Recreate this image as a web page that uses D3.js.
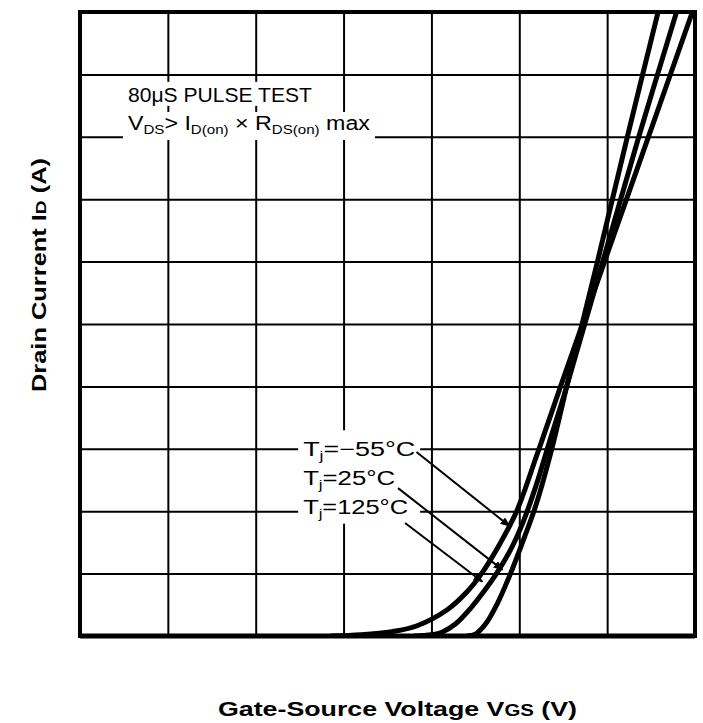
<!DOCTYPE html>
<html lang="en">
<head>
<meta charset="UTF-8">
<title>Transfer characteristics</title>
<style>
  body { margin: 0; background: #fff; }
  text { font-family: "Liberation Sans", Arial, Helvetica, sans-serif; fill: #000; }
</style>
</head>
<body>
<script src="https://d3js.org/d3.v7.min.js"></script>
<script>
// grid divisions (the original has no tick labels)
let vgsTicks = [0, 1, 2, 3, 4, 5, 6, 7];
let idTicks = [0, 1, 2, 3, 4, 5, 6, 7, 8, 9, 10];

// curves, [VGS, ID] in grid units
let tjMinus55 = [[4.40, 0], [4.50, 0.03], [4.62, 0.20], [4.75, 0.52], [4.90, 1.00], [5.05, 1.55],
                 [5.19, 2.10], [5.37, 3.00], [5.54, 4.00], [5.89, 6.00], [6.23, 8.00], [6.58, 10.0]];
let tj25 = [[3.80, 0], [4.00, 0.02], [4.12, 0.06], [4.28, 0.20], [4.45, 0.45], [4.60, 0.72],
            [4.74, 1.00], [4.90, 1.38], [5.05, 1.85], [5.20, 2.45], [5.33, 3.05], [5.54, 4.00],
            [5.95, 6.00], [6.36, 8.00], [6.79, 10.0]];
let tj125 = [[2.85, 0], [3.20, 0.02], [3.55, 0.07], [3.83, 0.16], [4.18, 0.42], [4.40, 0.70],
             [4.57, 1.00], [4.78, 1.48], [4.97, 2.00], [5.20, 2.90], [5.47, 4.00], [5.97, 6.00],
             [6.47, 8.00], [6.97, 10.0]];

let series = [tjMinus55, tj25, tj125];
let tempLabels = ["\u221255", "25", "125"];

// Define SVG area dimensions
let svgWidth = 703;
let svgHeight = 723;
let margin = { top: 12, left: 80 };
let chartWidth = 615;
let chartHeight = 624;

let svg = d3.select("body").append("svg")
  .attr("width", svgWidth)
  .attr("height", svgHeight);

let chartGroup = svg.append("g")
  .attr("transform", `translate(${margin.left}, ${margin.top})`);

let xScale = d3.scaleLinear().domain([0, 7]).range([0, chartWidth]);
let yScale = d3.scaleLinear().domain([0, 10]).range([chartHeight, 0]);

// grid lines through the axes
chartGroup.append("g")
  .attr("transform", `translate(0, ${chartHeight})`)
  .call(d3.axisBottom(xScale).tickValues(vgsTicks).tickSize(-chartHeight).tickFormat(""))
  .call(g => g.select(".domain").remove())
  .selectAll("line").attr("stroke", "#000").attr("stroke-width", 2);

chartGroup.append("g")
  .call(d3.axisLeft(yScale).tickValues(idTicks).tickSize(-chartWidth).tickFormat(""))
  .call(g => g.select(".domain").remove())
  .selectAll("line").attr("stroke", "#000").attr("stroke-width", 2);

// text blocks knock the grid out behind them
let knockout = chartGroup.append("g");
let textLayer = chartGroup.append("g");

function blank(sel, padX, padTop, padBottom) {
  let b = sel.node().getBBox();
  knockout.append("rect")
    .attr("x", b.x - padX).attr("y", b.y - padTop)
    .attr("width", b.width + 2 * padX).attr("height", b.height + padTop + padBottom)
    .attr("fill", "#fff");
}

// test conditions
let line1 = textLayer.append("text")
  .attr("x", xScale(0.546)).attr("y", yScale(8.56))
  .attr("font-size", 20)
  .attr("textLength", 184).attr("lengthAdjust", "spacingAndGlyphs")
  .text("80\u03bcS PULSE TEST");
blank(line1, 5, 2, 0);

let line2 = textLayer.append("text")
  .attr("x", xScale(0.546)).attr("y", yScale(8.11))
  .attr("font-size", 20)
  .attr("textLength", 242).attr("lengthAdjust", "spacingAndGlyphs");
line2.append("tspan").text("V");
line2.append("tspan").attr("font-size", 13).attr("dy", 4).text("DS");
line2.append("tspan").attr("dy", -4).text("> I");
line2.append("tspan").attr("font-size", 13).attr("dy", 4).text("D(on)");
line2.append("tspan").attr("dy", -4).text(" \u00d7 R");
line2.append("tspan").attr("font-size", 13).attr("dy", 4).text("DS(on)");
line2.append("tspan").attr("dy", -4).text(" max");
blank(line2, 5, 0, 3);

// curve labels
let labelGroup = textLayer.append("g");
let labelBase = [2.88, 2.42, 1.96];
let labelLen = [112, 92, 105];
tempLabels.forEach(function(t, i) {
  let lbl = labelGroup.append("text")
    .attr("x", xScale(2.54)).attr("y", yScale(labelBase[i]))
    .attr("font-size", 20)
    .attr("textLength", labelLen[i]).attr("lengthAdjust", "spacingAndGlyphs");
  lbl.append("tspan").text("T");
  lbl.append("tspan").attr("font-size", 13).attr("dy", 4).text("j");
  lbl.append("tspan").attr("dy", -4).text("=" + t + "\u00b0C");
});
blank(labelGroup, 5, 8, 3);

// clip for the curves
svg.append("defs").append("clipPath").attr("id", "plot")
  .append("rect").attr("width", chartWidth).attr("height", chartHeight);

svg.select("defs").append("marker")
  .attr("id", "head")
  .attr("viewBox", "0 0 10 8")
  .attr("refX", 9).attr("refY", 4)
  .attr("markerUnits", "userSpaceOnUse")
  .attr("markerWidth", 10).attr("markerHeight", 8)
  .attr("orient", "auto")
  .append("path").attr("d", "M0,0 L10,4 L0,8 z").attr("fill", "#000");

let line = d3.line()
  .x(d => xScale(d[0]))
  .y(d => yScale(d[1]))
  .curve(d3.curveCatmullRom.alpha(0.5));

chartGroup.append("g").attr("clip-path", "url(#plot)")
  .selectAll("path")
  .data(series)
  .enter()
  .append("path")
  .attr("d", line)
  .attr("fill", "none")
  .attr("stroke", "#000")
  .attr("stroke-width", 5);

// leader lines from labels to curves, [x1, y1, x2, y2] in grid units
let leaders = [[3.83, 2.95, 4.89, 1.76], [3.62, 2.37, 4.81, 1.06], [3.70, 1.81, 4.58, 0.87]];
chartGroup.selectAll(".leader")
  .data(leaders)
  .enter()
  .append("line")
  .attr("class", "leader")
  .attr("x1", d => xScale(d[0])).attr("y1", d => yScale(d[1]))
  .attr("x2", d => xScale(d[2])).attr("y2", d => yScale(d[3]))
  .attr("stroke", "#000")
  .attr("stroke-width", 2)
  .attr("marker-end", "url(#head)");

// frame
chartGroup.append("rect")
  .attr("width", chartWidth).attr("height", chartHeight)
  .attr("fill", "none").attr("stroke", "#000").attr("stroke-width", 4);
chartGroup.append("line")
  .attr("x1", 0).attr("x2", chartWidth)
  .attr("y1", chartHeight).attr("y2", chartHeight)
  .attr("stroke", "#000").attr("stroke-width", 5);

// axis titles
let xTitle = svg.append("text")
  .attr("x", 397.5).attr("y", 716)
  .attr("text-anchor", "middle")
  .attr("font-size", 21).attr("font-weight", "bold")
  .attr("textLength", 359).attr("lengthAdjust", "spacingAndGlyphs");
xTitle.append("tspan").text("Gate-Source Voltage V");
xTitle.append("tspan").attr("font-size", 16).text("GS");
xTitle.append("tspan").text(" (V)");

let yTitle = svg.append("text")
  .attr("transform", "translate(46, 275) rotate(-90)")
  .attr("text-anchor", "middle")
  .attr("font-size", 20).attr("font-weight", "bold")
  .attr("textLength", 234).attr("lengthAdjust", "spacingAndGlyphs");
yTitle.append("tspan").text("Drain Current I");
yTitle.append("tspan").attr("font-size", 15).text("D");
yTitle.append("tspan").text(" (A)");
</script>
</body>
</html>
